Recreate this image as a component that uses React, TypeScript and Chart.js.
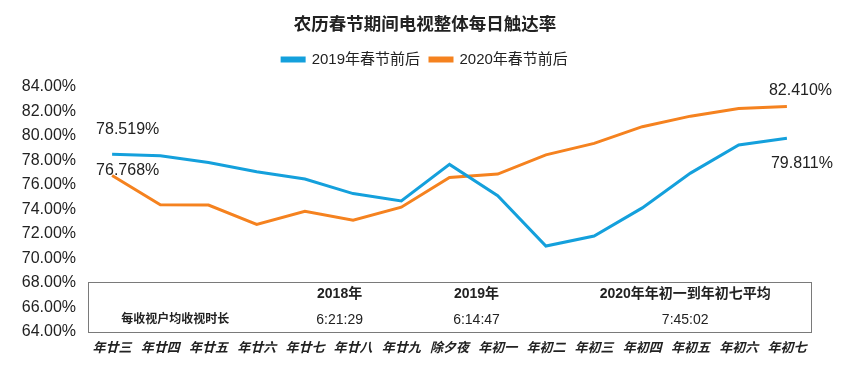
import React, { useEffect, useRef } from "react";
import { Chart, registerables } from "chart.js";

Chart.register(...registerables);

const categories = ["年廿三", "年廿四", "年廿五", "年廿六", "年廿七", "年廿八", "年廿九", "除夕夜", "年初一", "年初二", "年初三", "年初四", "年初五", "年初六", "年初七"];
const series2019 = [78.519, 78.38, 77.84, 77.08, 76.49, 75.3, 74.7, 77.68, 75.13, 71.02, 71.83, 74.13, 76.97, 79.27, 79.811];
const series2020 = [76.768, 74.38, 74.36, 72.78, 73.86, 73.13, 74.19, 76.62, 76.89, 78.46, 79.4, 80.76, 81.62, 82.24, 82.41];
const seriesNames = ["2019年春节前后", "2020年春节前后"];
const tableHeaders = ["2018年", "2019年", "2020年年初一到年初七平均"];
const tableRowLabel = "每收视户均收视时长";
const tableValues = ["6:21:29", "6:14:47", "7:45:02"];
const titleText = "农历春节期间电视整体每日触达率";

const FONT = "'Liberation Sans', 'Noto Sans CJK SC', Arial, sans-serif";
const BLUE = "#14a0dc";
const ORANGE = "#f5821f";
const TEXT = "#222222";

const tablePlugin = {
  id: "tablePlugin",
  afterDatasetsDraw(chart: any) {
    const { ctx, chartArea, scales } = chart;
    const x = scales.x;
    const y = scales.y;
    const top = y.getPixelForValue(68);
    const bottom = y.getPixelForValue(64);
    ctx.save();
    ctx.strokeStyle = "#7a7a7a";
    ctx.lineWidth = 1;
    ctx.strokeRect(Math.round(chartArea.left) + 0.5, Math.round(top) - 0.5, Math.round(chartArea.right - chartArea.left), Math.round(bottom - top) + 1);
    const step = x.getPixelForValue(1) - x.getPixelForValue(0);
    const x0 = x.getPixelForValue(0);
    const colIdx = [4.72, 7.56, 11.89];
    const headY = y.getPixelForValue(67.1);
    const rowY = y.getPixelForValue(65.0);
    ctx.fillStyle = TEXT;
    ctx.textAlign = "center";
    ctx.textBaseline = "middle";
    ctx.font = `bold 14px ${FONT}`;
    tableHeaders.forEach((h, i) => ctx.fillText(h, x0 + colIdx[i] * step, headY));
    ctx.font = `14px ${FONT}`;
    tableValues.forEach((v, i) => ctx.fillText(v, x0 + colIdx[i] * step, rowY));
    ctx.font = `bold 12px ${FONT}`;
    ctx.fillText(tableRowLabel, x0 + 1.31 * step, rowY);

    // data labels
    ctx.font = `16px ${FONT}`;
    ctx.textAlign = "left";
    const m0 = chart.getDatasetMeta(0).data;
    const m1 = chart.getDatasetMeta(1).data;
    const n = categories.length - 1;
    const fmt = (v: number) => v.toFixed(3) + "%";
    ctx.fillText(fmt(series2019[0]), m0[0].x - 16, m0[0].y - 25);
    ctx.fillText(fmt(series2020[0]), m1[0].x - 16, m1[0].y - 5);
    ctx.fillText(fmt(series2020[n]), m1[n].x - 18, m1[n].y - 16);
    ctx.fillText(fmt(series2019[n]), m0[n].x - 16, m0[n].y + 25);
    ctx.restore();
  },
};

export default function App() {
  const ref = useRef<HTMLCanvasElement | null>(null);
  useEffect(() => {
    if (!ref.current) return;
    const chart = new Chart(ref.current, {
      type: "line",
      data: {
        labels: categories,
        datasets: [
          { label: seriesNames[0], data: series2019, borderColor: BLUE, backgroundColor: BLUE, borderWidth: 3, pointRadius: 0, tension: 0 },
          { label: seriesNames[1], data: series2020, borderColor: ORANGE, backgroundColor: ORANGE, borderWidth: 3, pointRadius: 0, tension: 0 },
        ],
      },
      options: {
        animation: false,
        responsive: true,
        maintainAspectRatio: false,
        layout: { padding: { left: 0, right: 14, top: 0, bottom: 0 } },
        plugins: {
          title: {
            display: true,
            text: titleText,
            color: TEXT,
            font: { family: FONT, size: 17.5, weight: "bold" },
            padding: { top: 14.5, bottom: 6.5 },
          },
          legend: {
            display: true,
            labels: {
              color: TEXT,
              font: { family: FONT, size: 15 },
              boxWidth: 22,
              boxHeight: 3,
              padding: 10,
            },
          },
          tooltip: { enabled: false },
        },
        scales: {
          x: {
            offset: true,
            grid: { display: false, drawTicks: false },
            border: { display: false },
            ticks: { color: TEXT, font: { family: FONT, size: 13, weight: "bold", style: "italic" }, padding: 9, maxRotation: 0, autoSkip: false },
            afterFit: (s: any) => { s.height = 45; },
          },
          xTop: {
            type: "category",
            position: "top",
            grid: { display: false, drawTicks: false },
            border: { display: false },
            ticks: { display: false },
            afterFit: (s: any) => { s.height = 10; },
          },
          y: {
            min: 64,
            max: 84,
            grid: { display: false, drawTicks: false },
            border: { display: false },
            ticks: { stepSize: 2, color: TEXT, font: { family: FONT, size: 16 }, padding: 12, callback: (v: any) => Number(v).toFixed(2) + "%" },
            afterFit: (s: any) => { s.width = 88; },
          },
          yRight: {
            type: "linear",
            position: "right",
            grid: { display: false, drawTicks: false },
            border: { display: false },
            ticks: { display: false },
            afterFit: (s: any) => { s.width = 39; },
          },
        },
      },
      plugins: [tablePlugin],
    });
    return () => chart.destroy();
  }, []);
  return (
    <div style={{ position: "absolute", left: 0, top: 0, width: 864, height: 377, background: "#fff" }}>
      <canvas ref={ref} />
    </div>
  );
}
